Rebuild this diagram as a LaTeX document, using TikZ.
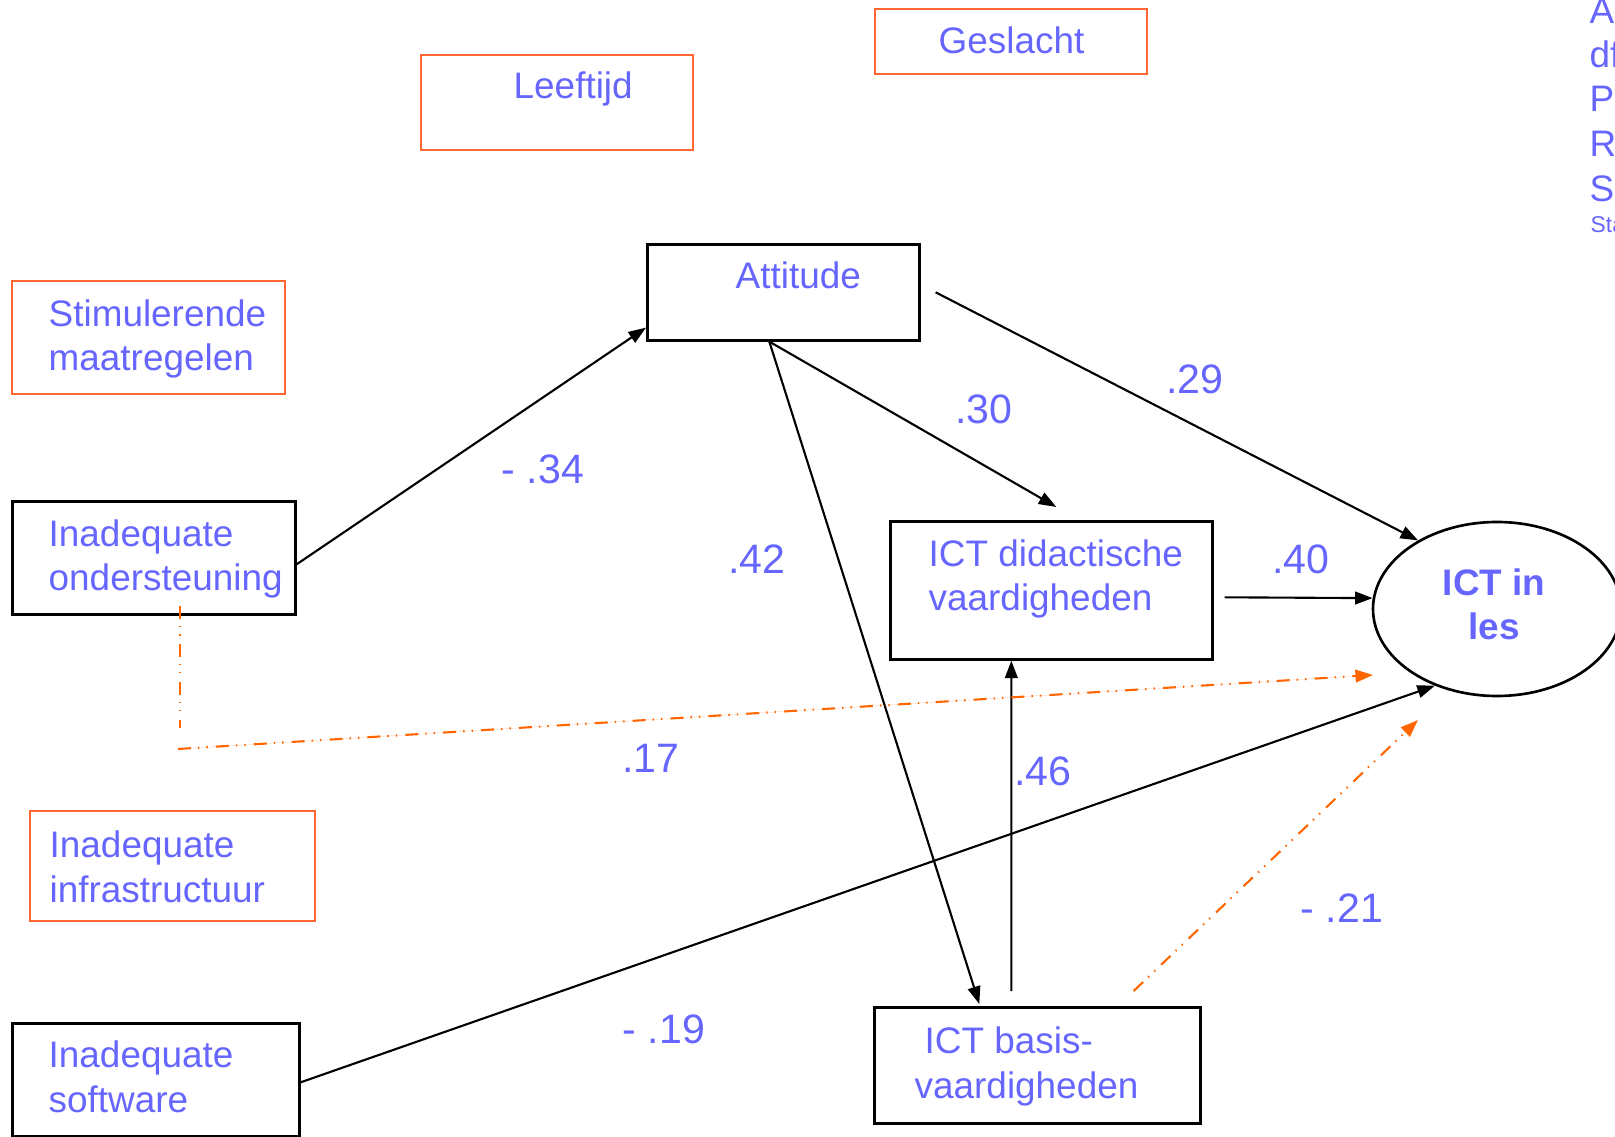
\documentclass[tikz,border=0pt]{standalone}
\usepackage{fontspec}
\setmainfont{Liberation Sans}
\usetikzlibrary{arrows.meta,shapes.geometric,calc}
\definecolor{tblue}{HTML}{6666FF}
\definecolor{obord}{HTML}{FF6633}
\definecolor{oline}{HTML}{FF6600}

\tikzset{
  box/.style={draw=black, line width=0.75pt, anchor=north west, inner sep=0pt},
  obox/.style={draw=obord, line width=0.7pt, anchor=north west, inner sep=0pt},
  txt/.style={text=tblue, font=\fontsize{10.5}{12.8}\selectfont, inner sep=0pt, anchor=base west, align=left},
  num/.style={text=tblue, font=\fontsize{11.7}{14}\selectfont, inner sep=0pt, anchor=base},
  tip/.style={-{Triangle[length=5pt,width=3.6pt]}},
  conn/.style={draw=black, line width=0.6pt, tip},
  dconn/.style={draw=oline, line width=0.6pt,
    dash pattern=on 3.7pt off 2pt on 0.4pt off 2pt on 0.4pt off 2.3pt},
}

\begin{document}
\begin{tikzpicture}[x=0.1mm, y=-0.1mm]
\useasboundingbox (0,0) rectangle (1615,1137);
\clip (0,0) rectangle (1615,1137);

% boxes
\node[obox, minimum width=27.2mm, minimum height=9.5mm] (lft) at (420,54) {};
\node[obox, minimum width=27.2mm, minimum height=6.5mm] (gsl) at (874,8) {};
\node[box,  minimum width=27.2mm, minimum height=9.6mm] (att) at (646,243) {};
\node[obox, minimum width=27.3mm, minimum height=11.3mm] (stm) at (11,280) {};
\node[box,  minimum width=28.3mm, minimum height=11.3mm] (ond) at (11,500) {};
\node[obox, minimum width=28.5mm, minimum height=11.0mm] (inf) at (29,810) {};
\node[box,  minimum width=28.7mm, minimum height=11.3mm] (sw)  at (11,1022) {};
\node[box,  minimum width=32.2mm, minimum height=13.8mm] (did) at (889,520) {};
\node[box,  minimum width=32.6mm, minimum height=11.6mm] (bas) at (873,1006) {};
\node[draw=black, line width=0.75pt, ellipse, inner sep=0pt,
      minimum width=24.8mm, minimum height=17.4mm] (ict) at (1497,609) {};

% box texts (multi-line texts are placed by the baseline of their last line)
\node[txt] (tlft) at (513,99) {Leeftijd};
\node[txt] (tgsl) at (938,54) {Geslacht};
\node[txt] (tatt) at (735,289) {Attitude};
\node[txt] (tstm) at (48,371) {Stimulerende\\maatregelen};
\node[txt] (tond) at (48,591) {Inadequate\\ondersteuning};
\node[txt] (tinf) at (49,902) {Inadequate\\infrastructuur};
\node[txt] (tsw)  at (48,1112) {Inadequate\\software};
\node[txt] (tdid) at (928,611) {ICT didactische\\vaardigheden};
\node[txt] (tbas) at (914,1098) {\hspace*{1mm}ICT basis-\\vaardigheden};
\node[txt, anchor=base, align=center, font=\fontsize{10.5}{12.8}\selectfont\bfseries]
      (tict) at (1494,640) {ICT in\\les};

% fit indices at the right edge
\node[txt] (fa) at (1589,24) {A};
\node[txt] (fb) at (1589,68) {df};
\node[txt] (fc) at (1589,112) {P};
\node[txt] (fd) at (1589,157) {R};
\node[txt] (fe) at (1589,202) {S};
\node[txt, font=\fontsize{6.5}{8}\selectfont] (ff) at (1590,233) {Sta};

% paths
\draw[conn] ([yshift=-0.65mm]ond.east) -- ([yshift=1.4mm]att.south west);
\draw[conn] ([xshift=1.5mm]att.east) -- (ict.139);
\draw[conn] ([xshift=-1.4mm]att.south) -- ([xshift=0.5mm,yshift=1.3mm]did.north);
\draw[conn] ([xshift=-1.4mm]att.south) -- ([xshift=-5.8mm,yshift=0.2mm]bas.north);
\draw[conn] ([xshift=1.1mm,yshift=-0.7mm]did.east) -- (ict.175);
\draw[conn] ([xshift=-2.6mm,yshift=1.5mm]bas.north) -- ([xshift=-4mm]did.south);
\draw[conn] ([yshift=-0.25mm]sw.east) -- (ict.231);

% orange dash-dot paths
\coordinate (o17s) at (178,749);
\coordinate (o17e) at (1373,675);
\coordinate (o21e) at (1418,720);
\draw[dconn] ([xshift=2.65mm,yshift=1mm]ond.south) -- ([xshift=2.65mm,yshift=-11.2mm]ond.south);
\draw[dconn, tip, fill=oline] (o17s) -- (o17e);
\draw[dconn, tip] ([xshift=-6.8mm,yshift=1.5mm]bas.north east) -- (o21e);

% coefficients
\node[num] (c34) at (543,484) {- .34};
\node[num] (c30) at (984,424) {.30};
\node[num] (c29) at (1195,394) {.29};
\node[num] (c42) at (757,574) {.42};
\node[num] (c40) at (1301,574) {.40};
\node[num] (c17) at (651,772) {.17};
\node[num] (c46) at (1043,786) {.46};
\node[num] (c21) at (1342,922) {- .21};
\node[num] (c19) at (664,1043) {- .19};
\end{tikzpicture}
\end{document}
